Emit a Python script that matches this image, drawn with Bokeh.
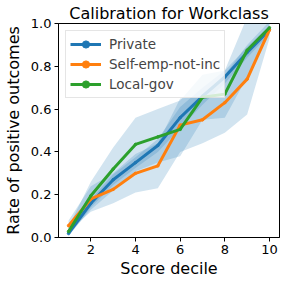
from bokeh.plotting import figure
from bokeh.models import Range1d, FixedTicker, NumeralTickFormatter, Legend
from bokeh.embed import file_html
from bokeh.resources import INLINE

deciles = [1, 2, 3, 4, 5, 6, 7, 8, 9, 10]

private = [0.019, 0.16, 0.27, 0.35, 0.43, 0.56, 0.66, 0.75, 0.865, 0.97]
private_lo = [0.005, 0.14, 0.245, 0.325, 0.40, 0.51, 0.62, 0.72, 0.84, 0.95]
private_hi = [0.035, 0.18, 0.295, 0.375, 0.46, 0.61, 0.70, 0.78, 0.89, 0.99]

selfemp = [0.055, 0.18, 0.225, 0.30, 0.335, 0.525, 0.55, 0.63, 0.74, 0.97]
selfemp_lo = [0.03, 0.12, 0.16, 0.21, 0.23, 0.40, 0.44, 0.49, 0.575, 0.93]
selfemp_hi = [0.08, 0.24, 0.30, 0.39, 0.44, 0.65, 0.66, 0.76, 0.90, 1.01]

localgov = [0.028, 0.195, 0.32, 0.435, 0.47, 0.505, 0.655, 0.67, 0.875, 0.98]
localgov_lo = [0.01, 0.13, 0.22, 0.31, 0.35, 0.38, 0.55, 0.56, 0.75, 0.95]
localgov_hi = [0.05, 0.26, 0.42, 0.56, 0.60, 0.64, 0.76, 0.78, 1.03, 1.03]

series = [
    ("Private", private, private_lo, private_hi, "#1f77b4"),
    ("Self-emp-not-inc", selfemp, selfemp_lo, selfemp_hi, "#ff7f0e"),
    ("Local-gov", localgov, localgov_lo, localgov_hi, "#2ca02c"),
]

FONT = "DejaVu Sans"

p = figure(output_backend="svg", toolbar_location=None,
           x_range=Range1d(0.55, 10.45), y_range=Range1d(0, 1),
           min_border_left=53, min_border_right=9, min_border_top=16, min_border_bottom=38,
           frame_width=221, frame_height=214,
           title="Calibration for Workclass")

p.title.text_font = FONT
p.title.text_font_size = "16px"
p.title.text_font_style = "normal"
p.title.align = "center"
p.title.text_color = "black"
p.title.standoff = 2

p.xgrid.visible = False
p.ygrid.visible = False
p.outline_line_color = "black"
p.outline_line_width = 1
p.outline_line_alpha = 1

for name, vals, lo, hi, col in series:
    p.varea(x=deciles, y1=lo, y2=hi, fill_color="#1f77b4", fill_alpha=0.2)

items = []
for name, vals, lo, hi, col in series:
    r1 = p.line(deciles, vals, line_color=col, line_width=3)
    r2 = p.scatter(deciles, vals, size=2.5, fill_color=col, line_color=col)
    items.append((name, [r1, r2]))

legend = Legend(items=items, location="top_left")
legend.label_text_font = FONT
legend.label_text_font_size = "13.5px"
legend.border_line_color = "#cccccc"
legend.background_fill_alpha = 0.8
legend.margin = 7
legend.padding = 4
legend.spacing = 2
legend.label_height = 18
legend.glyph_height = 18
legend.glyph_width = 31
legend.label_standoff = 8
p.add_layout(legend, "center")

for ax in (p.xaxis, p.yaxis):
    ax.axis_line_color = "black"
    ax.major_tick_line_color = "black"
    ax.minor_tick_line_color = None
    ax.major_tick_out = 4
    ax.major_tick_in = 0
    ax.major_label_text_font = FONT
    ax.major_label_text_font_size = "13px"
    ax.major_label_text_color = "black"
    ax.axis_label_text_font = FONT
    ax.axis_label_text_font_size = "16px"
    ax.axis_label_text_font_style = "normal"
    ax.axis_label_text_color = "black"

p.xaxis.ticker = FixedTicker(ticks=[2, 4, 6, 8, 10])
p.yaxis.ticker = FixedTicker(ticks=[0, 0.2, 0.4, 0.6, 0.8, 1.0])
p.yaxis.formatter = NumeralTickFormatter(format="0.0")
p.xaxis.axis_label = "Score decile"
p.yaxis.axis_label = "Rate of positive outcomes"
p.xaxis.major_label_standoff = 3
p.yaxis.major_label_standoff = 3
p.xaxis.axis_label_standoff = 2
p.yaxis.axis_label_standoff = 5

open("out.html", "w").write(file_html(p, INLINE))
